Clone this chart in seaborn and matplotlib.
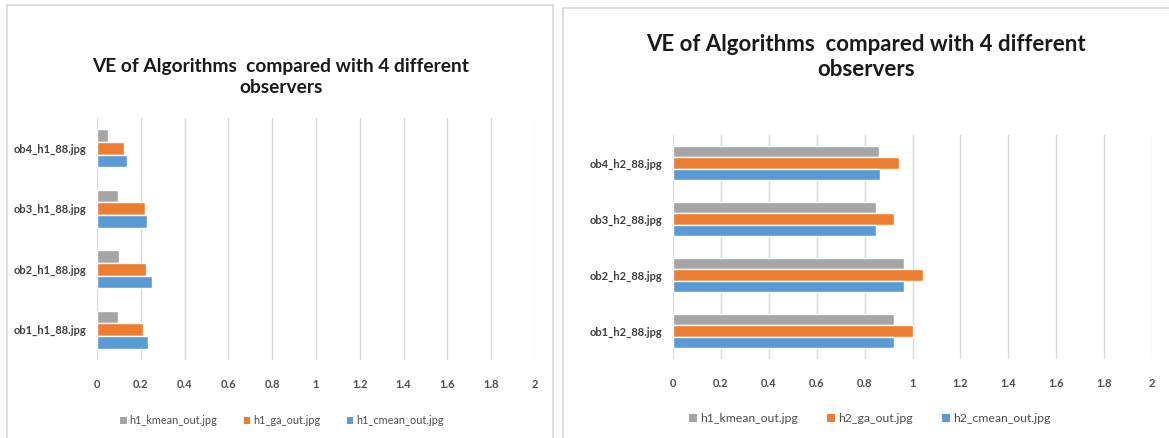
import matplotlib
matplotlib.use("Agg")
import matplotlib.pyplot as plt
import seaborn as sns
import pandas as pd
from matplotlib.patches import Rectangle, Patch

#  Data 
TITLE = "VE of Algorithms  compared with 4 different\nobservers"
COLORS = ["#A5A5A5", "#ED7D31", "#5B9BD5"]

left_cats   = ["ob4_h1_88.jpg", "ob3_h1_88.jpg", "ob2_h1_88.jpg", "ob1_h1_88.jpg"]
left_series = ["h1_kmean_out.jpg", "h1_ga_out.jpg", "h1_cmean_out.jpg"]
left_kmean  = [0.048, 0.094, 0.100, 0.097]
left_ga     = [0.124, 0.218, 0.226, 0.211]
left_cmean  = [0.136, 0.230, 0.250, 0.235]

right_cats   = ["ob4_h2_88.jpg", "ob3_h2_88.jpg", "ob2_h2_88.jpg", "ob1_h2_88.jpg"]
right_series = ["h1_kmean_out.jpg", "h2_ga_out.jpg", "h2_cmean_out.jpg"]
right_kmean  = [0.862, 0.847, 0.965, 0.923]
right_ga     = [0.944, 0.923, 1.042, 1.000]
right_cmean  = [0.865, 0.847, 0.965, 0.923]

xticks = [0, 0.2, 0.4, 0.6, 0.8, 1, 1.2, 1.4, 1.6, 1.8, 2]
xtick_labels = ["0", "0.2", "0.4", "0.6", "0.8", "1", "1.2", "1.4", "1.6", "1.8", "2"]


def long_form(cats, series, values):
    rows = []
    for s, vals in zip(series, values):
        for c, v in zip(cats, vals):
            rows.append({"cat": c, "series": s, "value": v})
    return pd.DataFrame(rows)


sns.set_theme(style="white")
plt.rcParams["font.family"] = ["Lato", "DejaVu Sans"]

W, H = 1169, 438
fig = plt.figure(figsize=(W / 100, H / 100), dpi=100)


def px_axes(x0, y0, x1, y1):
    return fig.add_axes([x0 / W, 1 - y1 / H, (x1 - x0) / W, (y1 - y0) / H])


# panel borders
for (x0, y0, x1, y1) in [(7, 5, 553, 445), (563, 8, 1175, 445)]:
    fig.patches.append(Rectangle((x0 / W, 1 - y1 / H), (x1 - x0) / W, (y1 - y0) / H,
                                 transform=fig.transFigure, fill=False,
                                 edgecolor="#D9D9D9", linewidth=1.2))


def draw(ax, cats, series, values, width, legend_xy, legend_size, title_xy, title_size):
    df = long_form(cats, series, values)
    sns.barplot(data=df, y="cat", x="value", hue="series", order=cats,
                hue_order=series, palette=COLORS, orient="h", width=width,
                gap=0, ax=ax, legend=False, saturation=1)
    ax.set_xlim(0, 2)
    ax.set_xticks(xticks)
    ax.set_xticklabels(xtick_labels)
    ax.set_xlabel("")
    ax.set_ylabel("")
    for s in ax.spines.values():
        s.set_visible(False)
    ax.grid(axis="x", color="#D9D9D9", linewidth=1)
    ax.set_axisbelow(True)
    ax.tick_params(axis="x", length=0, pad=14, labelsize=8, labelcolor="#4D4D4D")
    ax.tick_params(axis="y", length=0, pad=8, labelsize=8, labelcolor="#404040")
    for lab in ax.get_yticklabels():
        lab.set_fontweight("bold")
    for lab in ax.get_xticklabels():
        lab.set_fontweight("bold")
    handles = [Patch(facecolor=c, edgecolor="none", label=s) for c, s in zip(COLORS, series)]
    fig.legend(handles=handles, loc="center", ncol=3, frameon=False,
               bbox_to_anchor=(legend_xy[0] / W, 1 - legend_xy[1] / H),
               fontsize=legend_size, handlelength=0.6, handleheight=0.6, handletextpad=0.3,
               columnspacing=2.4, labelcolor="#4D4D4D")
    fig.text(title_xy[0] / W, 1 - title_xy[1] / H, TITLE, ha="center", va="center",
             fontsize=title_size, fontweight="bold", color="#1A1A1A", linespacing=1.25)


ax1 = px_axes(97, 118, 535, 360)
draw(ax1, left_cats, left_series, [left_kmean, left_ga, left_cmean], 0.63,
     (282, 421), 7.8, (281, 77), 13.8)

ax2 = px_axes(673, 135, 1152, 359)
draw(ax2, right_cats, right_series, [right_kmean, right_ga, right_cmean], 0.6,
     (870, 419), 8.8, (866, 57), 16)

fig.savefig("out.png", dpi=100)
